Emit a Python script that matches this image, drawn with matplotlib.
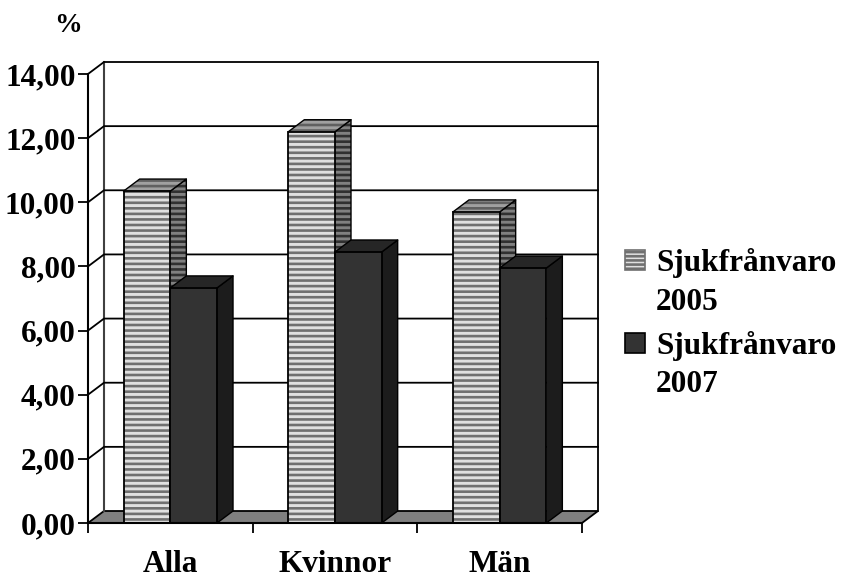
import matplotlib
matplotlib.use('Agg')
import matplotlib.pyplot as plt
from matplotlib.patches import Rectangle

plt.rcParams['font.family'] = ['Liberation Serif', 'DejaVu Serif']
plt.rcParams['font.weight'] = 'bold'
plt.rcParams['hatch.linewidth'] = 1.9

categories = ['Alla', 'Kvinnor', 'Män']
sjuk2005 = [10.35, 12.2, 9.7]
sjuk2007 = [7.33, 8.45, 7.95]
yticks = [0, 2, 4, 6, 8, 10, 12, 14]
yticklabels = ['0,00', '2,00', '4,00', '6,00', '8,00', '10,00', '12,00', '14,00']
legend_labels = ['Sjukfrånvaro\n2005', 'Sjukfrånvaro\n2007']

W, H = 846, 577
fig = plt.figure(figsize=(W / 100, H / 100), dpi=100)
ax = fig.add_axes([88 / W, 1 - 523 / H, 494 / W, 449 / H])
ax.set_xlim(0, 3)
ax.set_ylim(0, 14)

# depth of the fake 3d, in data units
dx = 16 / (494 / 3)
dy = 12 / (449 / 14)
bw = 0.2835
lc = '#000000'
fs = 22.5

# floor
ax.fill([0, dx, 3 + dx, 3], [0, dy, dy, 0], fc='#808080', ec=lc, lw=1.3, zorder=1, clip_on=False)

# walls and grid
ax.plot([dx, dx], [dy, 14 + dy], color='#404040', lw=1.5, zorder=1, clip_on=False)
ax.plot([3 + dx, 3 + dx], [dy, 14 + dy], color=lc, lw=1.3, zorder=1, clip_on=False)
for v in yticks[1:]:
    ax.plot([0, dx, 3 + dx], [v, v + dy, v + dy], color=lc, lw=1.3, zorder=1, clip_on=False)


def bar3d(x, h, front, side, top, hatch_front, hatch_side, hatch_top, z):
    l = x
    r = x + bw
    ax.fill([r, r + dx, r + dx, r], [0, dy, h + dy, h], fc=side, ec=hatch_side if hatch_side else lc,
            hatch='---' if hatch_side else None, lw=0, zorder=z, clip_on=False)
    ax.plot([r, r + dx, r + dx, r], [0, dy, h + dy, h], color=lc, lw=1.0, zorder=z, clip_on=False)
    ax.fill([l, l + dx, r + dx, r], [h, h + dy, h + dy, h], fc=top, ec=hatch_top if hatch_top else lc,
            hatch='---' if hatch_top else None, lw=0, zorder=z, clip_on=False)
    ax.plot([l, l + dx, r + dx, r], [h, h + dy, h + dy, h], color=lc, lw=1.0, zorder=z, clip_on=False)
    ax.bar(x, h, bw, align='edge', color=front, edgecolor=hatch_front if hatch_front else lc,
           hatch='---' if hatch_front else None, lw=0, zorder=z, clip_on=False)
    ax.bar(x, h, bw, align='edge', fill=False, edgecolor=lc, lw=1.3, zorder=z, clip_on=False)


for i in range(3):
    bar3d(i + 0.5 - bw, sjuk2005[i], '#e0e0e0', '#808080', '#a0a0a0', '#707070', '#303030', '#606060', 3)
for i in range(3):
    bar3d(i + 0.5, sjuk2007[i], '#333333', '#1c1c1c', '#262626', None, None, None, 4)

for s in ['top', 'right']:
    ax.spines[s].set_visible(False)
for s in ['left', 'bottom']:
    ax.spines[s].set_linewidth(1.5)
    ax.spines[s].set_zorder(6)

ax.set_yticks(yticks)
ax.set_yticklabels(yticklabels, fontsize=fs)
ax.tick_params(axis='y', length=7, width=1.3, pad=2)
ax.set_xticks([0, 1, 2, 3])
ax.set_xticklabels([])
ax.tick_params(axis='x', length=7, width=1.3)
for i, c in enumerate(categories):
    ax.annotate(c, (i + 0.5, 0), xytext=(0, -41), textcoords='offset pixels', ha='center', va='center',
                fontsize=fs)

fig.text(68 / W, 1 - 26 / H, '%', ha='center', va='center', fontsize=20)

# legend
fig.add_artist(Rectangle((625 / W, 1 - 270 / H), 20 / W, 20 / H, transform=fig.transFigure,
                         fc='#e0e0e0', ec='#707070', hatch='----', lw=1.2))
fig.add_artist(Rectangle((625 / W, 1 - 353 / H), 20 / W, 20 / H, transform=fig.transFigure,
                         fc='#333333', ec=lc, lw=1.2))
fig.text(656 / W, 1 - 263 / H, legend_labels[0].split('\n')[0], va='center', fontsize=fs)
fig.text(656 / W, 1 - 303 / H, legend_labels[0].split('\n')[1], va='center', fontsize=fs)
fig.text(656 / W, 1 - 346 / H, legend_labels[1].split('\n')[0], va='center', fontsize=fs)
fig.text(656 / W, 1 - 385 / H, legend_labels[1].split('\n')[1], va='center', fontsize=fs)

fig.savefig('out.png', dpi=100)
